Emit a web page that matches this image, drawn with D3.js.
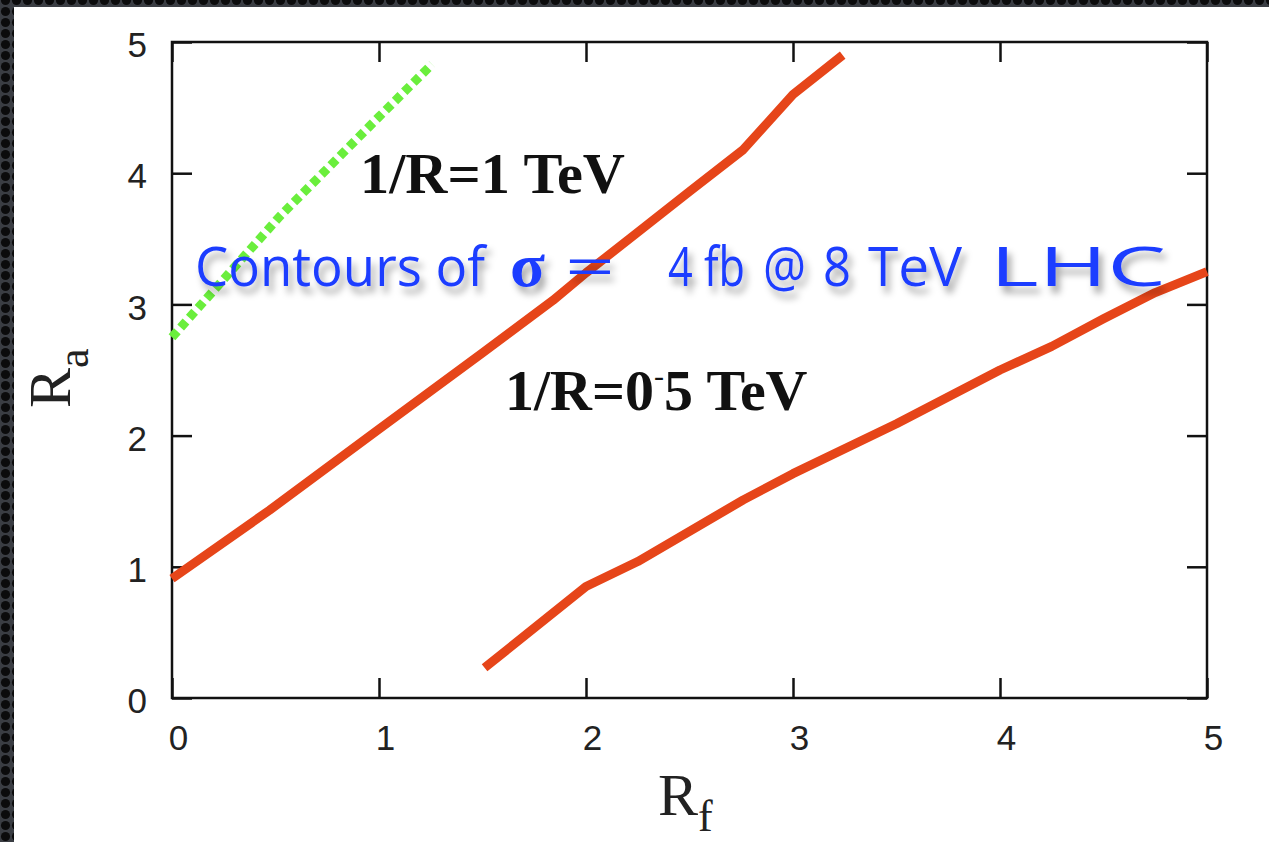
<!DOCTYPE html>
<html>
<head>
<meta charset="utf-8">
<script src="https://cdn.jsdelivr.net/npm/d3@7"></script>
<style>
  html, body { margin: 0; padding: 0; background: #2b2e33; }
  svg { display: block; }
</style>
</head>
<body>
<svg id="chart" width="1269" height="842"></svg>
<script>
// ---- data ----
const xTickValues = [0, 1, 2, 3, 4, 5];
const yTickValues = [0, 1, 2, 3, 4, 5];

// contour 1/R = 1 TeV (left red)
const leftRf = [0, 0.47, 1, 1.5, 1.84, 2, 2.25, 2.5, 2.76, 3, 3.24];
const leftRa = [0.91, 1.43, 2.05, 2.63, 3.03, 3.24, 3.55, 3.86, 4.18, 4.6, 4.9];

// contour 1/R = 0.5 TeV (right red)
const rightRf = [1.51, 2, 2.25, 2.76, 3, 3.5, 4, 4.25, 4.5, 4.75, 5];
const rightRa = [0.23, 0.85, 1.04, 1.51, 1.71, 2.09, 2.5, 2.68, 2.89, 3.09, 3.25];

// dotted green line
const greenRf = [0, 0.52, 1, 1.256];
const greenRa = [2.75, 3.67, 4.43, 4.83];

const labelTop = "1/R=1 TeV";
const labelBottom = ["1/R=0", "-", "5 TeV"];
const noteParts = [
  { t: "Contours of", x0: 195, x1: 485 },
  { t: "σ", x0: 510, x1: 545, serif: true },
  { t: "=", x0: 565, x1: 615 },
  { t: "4 fb", x0: 668, x1: 745 },
  { t: "@", x0: 763, x1: 806 },
  { t: "8", x0: 823, x1: 851 },
  { t: "TeV", x0: 868, x1: 962 },
  { t: "LHC", x0: 990, x1: 1166 }
];

// ---- drawing ----
const svg = d3.select("#chart");
const defs = svg.append("defs");

const pat = defs.append("pattern")
  .attr("id", "dots").attr("patternUnits", "userSpaceOnUse")
  .attr("width", 11).attr("height", 11).attr("x", 0).attr("y", -5);
pat.append("rect").attr("width", 11).attr("height", 11).attr("fill", "#3a3d43");
pat.append("circle").attr("cx", 5.5).attr("cy", 5.5).attr("r", 4.6).attr("fill", "#0b0b0c");

const shadow = defs.append("filter").attr("id", "shadow")
  .attr("x", "-10%").attr("y", "-30%").attr("width", "120%").attr("height", "180%");
shadow.append("feDropShadow").attr("dx", 4).attr("dy", 7).attr("stdDeviation", 3.5)
  .attr("flood-color", "#000").attr("flood-opacity", 0.35);

svg.append("rect").attr("width", 1269).attr("height", 842).attr("fill", "url(#dots)");
svg.append("rect").attr("x", 14).attr("y", 7).attr("width", 1255).attr("height", 835).attr("fill", "#ffffff");

const x = d3.scaleLinear().domain([0, 5]).range([172, 1207]);
const y = d3.scaleLinear().domain([0, 5]).range([698, 42]);

const tickLen = 20;
const tickFont = "'Liberation Sans', Arial, Helvetica, sans-serif";

function styleAxis(g, showLabels) {
  g.select(".domain").remove();
  g.selectAll(".tick line").attr("stroke", "#111").attr("stroke-width", 2.5);
  g.selectAll(".tick text")
    .attr("font-family", tickFont).attr("font-size", 35).attr("fill", "#222");
  if (!showLabels) g.selectAll(".tick text").remove();
}

svg.append("g").attr("transform", `translate(0,${y(0)})`)
  .call(d3.axisBottom(x).tickValues(xTickValues).tickSize(-tickLen).tickPadding(27).tickFormat(d3.format("d")))
  .call(g => styleAxis(g, true))
  .call(g => g.selectAll(".tick text").attr("dx", 6));

svg.append("g").attr("transform", `translate(0,${y(5)})`)
  .call(d3.axisTop(x).tickValues(xTickValues).tickSize(-tickLen))
  .call(g => styleAxis(g, false));

svg.append("g").attr("transform", `translate(${x(0)},0)`)
  .call(d3.axisLeft(y).tickValues(yTickValues).tickSize(-tickLen).tickPadding(25).tickFormat(d3.format("d")))
  .call(g => styleAxis(g, true))
  .call(g => g.selectAll(".tick text").attr("dy", "0.42em"));

svg.append("g").attr("transform", `translate(${x(5)},0)`)
  .call(d3.axisRight(y).tickValues(yTickValues).tickSize(-tickLen))
  .call(g => styleAxis(g, false));

// frame
svg.append("rect")
  .attr("x", x(0)).attr("y", y(5))
  .attr("width", x(5) - x(0)).attr("height", y(0) - y(5))
  .attr("fill", "none").attr("stroke", "#111").attr("stroke-width", 2.5);

// curves
const line = d3.line().x(d => x(d[0])).y(d => y(d[1])).curve(d3.curveLinear);
const zip = (a, b) => a.map((v, i) => [v, b[i]]);

svg.append("path").datum(zip(greenRf, greenRa))
  .attr("d", line).attr("fill", "none")
  .attr("stroke", "#6aee3c").attr("stroke-width", 9)
  .attr("stroke-dasharray", "8,5");

[zip(leftRf, leftRa), zip(rightRf, rightRa)].forEach(data => {
  svg.append("path").datum(data)
    .attr("d", line).attr("fill", "none")
    .attr("stroke", "#e64519").attr("stroke-width", 9)
    .attr("stroke-linejoin", "round");
});

// serif labels
const serif = "'Liberation Serif', 'Times New Roman', serif";
svg.append("text").attr("x", 360).attr("y", 193)
  .attr("font-family", serif).attr("font-weight", "bold").attr("font-size", 58)
  .attr("fill", "#111").attr("textLength", 265).attr("lengthAdjust", "spacingAndGlyphs")
  .text(labelTop);

const lb = svg.append("text").attr("x", 505).attr("y", 410)
  .attr("font-family", serif).attr("font-weight", "bold").attr("font-size", 58)
  .attr("fill", "#111");
lb.append("tspan").text(labelBottom[0]);
lb.append("tspan").attr("font-size", 30).attr("dy", -24).attr("font-weight", "normal").text(labelBottom[1]);
lb.append("tspan").attr("dy", 24).text(labelBottom[2]);

// axis titles
const xt = svg.append("text").attr("x", 658).attr("y", 815)
  .attr("font-family", serif).attr("font-size", 60).attr("fill", "#222");
xt.append("tspan").text("R");
xt.append("tspan").attr("font-size", 44).attr("dy", 16).text("f");

const yt = svg.append("text").attr("transform", "translate(70,408) rotate(-90)")
  .attr("font-family", serif).attr("font-size", 60).attr("fill", "#222");
yt.append("tspan").text("R");
yt.append("tspan").attr("font-size", 44).attr("dy", 18).text("a");

// handwritten note
const note = svg.append("g").attr("filter", "url(#shadow)");
noteParts.forEach(p => {
  note.append("text")
    .attr("x", p.x0).attr("y", 286)
    .attr("font-family", p.serif ? serif : "'Open Sans', 'Noto Sans', sans-serif")
    .attr("font-weight", p.serif ? "bold" : 400)
    .attr("font-size", p.serif ? 62 : 55)
    .attr("fill", "#1d3dff")
    .attr("textLength", p.x1 - p.x0)
    .attr("lengthAdjust", "spacingAndGlyphs")
    .text(p.t);
});
</script>
</body>
</html>
